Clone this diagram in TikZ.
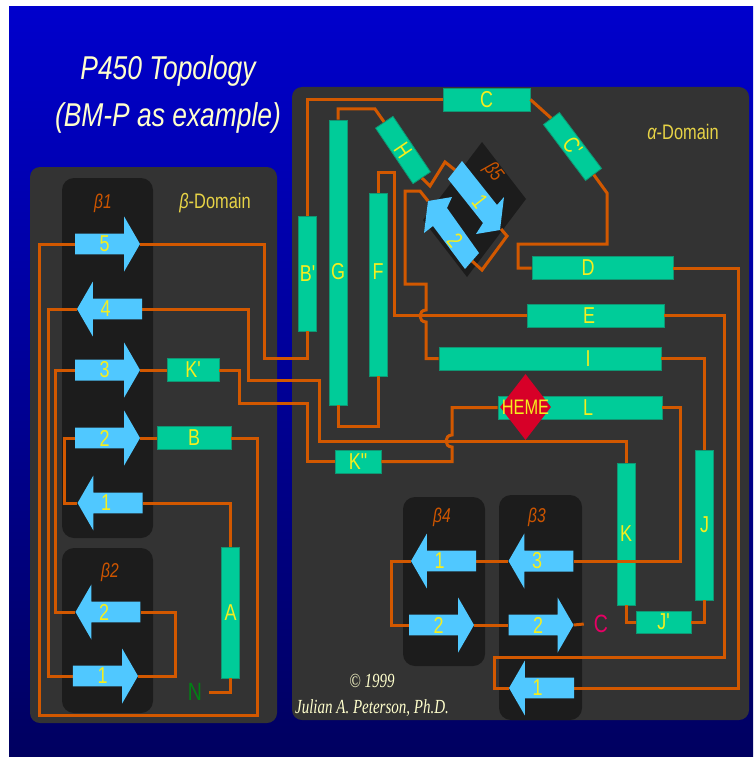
\documentclass[tikz,border=0pt]{standalone}
\usepackage{fontspec}
\usetikzlibrary{shapes.arrows,shapes.geometric}
\newfontfamily\narrowsf[FakeStretch=0.78]{Liberation Sans}
\newfontfamily\titlesf[FakeStretch=0.8]{Liberation Sans}
\newfontfamily\sigfont[FakeStretch=0.75]{Liberation Serif}
\definecolor{bgtop}{RGB}{0,0,204}
\definecolor{bgbot}{RGB}{0,0,96}
\definecolor{panelgray}{RGB}{51,51,51}
\definecolor{sheetgray}{RGB}{28,28,28}
\definecolor{helixgreen}{RGB}{0,204,153}
\definecolor{helixedge}{RGB}{16,150,115}
\definecolor{strandblue}{RGB}{80,200,255}
\definecolor{wireorange}{RGB}{210,88,0}
\definecolor{lblyellow}{RGB}{245,238,30}
\definecolor{domgold}{RGB}{232,212,70}
\definecolor{betaorange}{RGB}{205,85,0}
\definecolor{cream}{RGB}{255,255,204}
\definecolor{ngreen}{RGB}{0,130,20}
\definecolor{cpink}{RGB}{230,0,100}
\definecolor{hemered}{RGB}{215,0,40}
\pgfdeclarelayer{bg}
\pgfdeclarelayer{wires}
\pgfsetlayers{bg,wires,main}

\begin{document}
\begin{tikzpicture}[x=1pt, y=-1pt,
        wire/.style={draw=wireorange, line width=3},
        hlab/.style={text=lblyellow, inner sep=0,
                font=\narrowsf\fontsize{23}{23}\selectfont},
        helix/.style={rectangle, fill=helixgreen, draw=helixedge, line width=0.8,
                inner sep=0, text=lblyellow, font=\narrowsf\fontsize{23}{23}\selectfont},
        vhelix/.style={helix, minimum width=18},
        hhelix/.style={helix, minimum height=23},
        strandr/.style={single arrow, fill=strandblue, inner sep=0,
                minimum height=65, minimum width=55, single arrow head extend=13.5,
                single arrow tip angle=120, text=lblyellow,
                font=\narrowsf\fontsize{23}{23}\selectfont},
        strandl/.style={strandr, shape border rotate=180,
                execute at begin node=\hspace*{-7pt},
                execute at end node=\hspace*{7pt}},
        betatag/.style={text=betaorange, font=\narrowsf\itshape\fontsize{20}{20}\selectfont},
        domtag/.style={text=domgold, font=\narrowsf\fontsize{21}{21}\selectfont},
        sig/.style={text=cream, font=\sigfont\itshape\fontsize{20}{20}\selectfont},
        heme/.style={diamond, fill=hemered, minimum width=51, minimum height=66, inner sep=0}
    ]
    \useasboundingbox (0,0) rectangle (753,757);

    \begin{pgfonlayer}{bg}
        \fill[white] (0,0) rectangle (753,757);
        \shade[top color=bgtop, bottom color=bgbot] (9,7) rectangle (753,757);
        \fill[panelgray, rounded corners=10] (30,167) rectangle (277,723);
        \fill[panelgray, rounded corners=10] (292,87) rectangle (749,720);
        \fill[sheetgray, rounded corners=12] (62,178) rectangle (153,538);
        \fill[sheetgray, rounded corners=12] (62,548) rectangle (153,713);
        \fill[sheetgray, rounded corners=12] (403,497) rectangle (485,666);
        \fill[sheetgray, rounded corners=12] (499,495) rectangle (582,720);
        \fill[sheetgray] (482,142) -- (526,199) -- (467,277) -- (423,220) -- cycle;

        \node[hhelix, minimum width=52] (Kp) at (193,370) {K'};
        \node[hhelix, minimum width=74] (B) at (194,438) {B};
        \node[vhelix, minimum height=131] (A) at (230.5,612.5) {A};
        \node[vhelix, minimum height=115] (Bp) at (307.5,273.5) {B'};
        \node[vhelix, minimum height=285, label={[hlab, yshift=-9.5]center:G}] (G) at (338,262.5) {};
        \node[vhelix, minimum height=183, label={[hlab, yshift=12.5]center:F}] (F) at (378,284.5) {};
        \node[hhelix, minimum width=46] (Kpp) at (358,461.5) {K"};
        \node[hhelix, minimum width=87] (C) at (486.5,99.5) {C};
        \node[hhelix, minimum width=67, minimum height=21, rotate=-56] (H) at (403,150) {H};
        \node[hhelix, minimum width=70, minimum height=20, rotate=-53] (Cp) at (572.5,146.5) {C'};
        \node[hhelix, minimum width=141, label={[hlab, xshift=-14.5]center:D}] (D) at (602.5,268) {};
        \node[hhelix, minimum width=137, label={[hlab, xshift=-6.5]center:E}] (E) at (595.5,315.5) {};
        \node[hhelix, minimum width=222, label={[hlab, xshift=38]center:I}] (I) at (550,358.5) {};
        \node[hhelix, minimum width=164, label={[hlab, xshift=8]center:L}] (L) at (580,407.5) {};
        \node[vhelix, minimum height=142] (K) at (626,534) {K};
        \node[vhelix, minimum height=150] (J) at (704.5,525) {J};
        \node[hhelix, minimum width=55, minimum height=22] (Jp) at (663.5,622) {J'};
    \end{pgfonlayer}

    \node[strandr] (b1s5) at (104.5,244) {5};
    \node[strandl] (b1s4) at (112.5,309) {4};
    \node[strandr] (b1s3) at (104.5,370) {3};
    \node[strandr] (b1s2) at (104.5,438) {2};
    \node[strandl] (b1s1) at (113,503) {1};
    \node[strandl] (b2s2) at (111,612) {2};
    \node[strandr] (b2s1) at (102.5,676) {1};
    \node[strandl] (b4s1) at (446.5,561) {1};
    \node[strandr] (b4s2) at (438.5,625) {2};
    \node[strandl] (b3s3) at (544,561) {3};
    \node[strandr] (b3s2) at (538,625) {2};
    \node[strandl] (b3s1) at (544.5,688) {1};

    \fill[strandblue] (462,161) -- (497,205) -- (504,197) -- (500,230) -- (476,234)
        -- (483,223) -- (448,179) -- cycle;
    \fill[strandblue] (479,253) -- (447,208) -- (452,197) -- (428,201) -- (424,233)
        -- (433,226) -- (465,269) -- cycle;
    \coordinate (b5a) at (455,170);
    \coordinate (b5b) at (501,229);
    \coordinate (b5c) at (472,261);
    \coordinate (b5d) at (428,201);
    \node[hlab, rotate=-52] (b5n1) at (480,202) {1};
    \node[hlab, rotate=-52] (b5n2) at (455,240) {2};
    \node[betatag, rotate=-52] (b5tag) at (493,172) {β5};

    \node[heme, label={[hlab, font=\narrowsf\fontsize{21}{21}\selectfont]center:HEME}] (heme) at (525.5,407) {};

    \node[text=cream, align=center, font=\titlesf\itshape\fontsize{33}{47}\selectfont] (title) at (168,94) {P450 Topology\\(BM-P as example)};
    \node[domtag] (bdom) at (215,203) {{\itshape β}-Domain};
    \node[domtag] (adom) at (683,132) {{\itshape α}-Domain};
    \node[betatag] (b1tag) at (103,203) {β1};
    \node[betatag] (b2tag) at (110,572) {β2};
    \node[betatag] (b4tag) at (442,517) {β4};
    \node[betatag] (b3tag) at (537,517) {β3};
    \node[text=ngreen, inner xsep=7, font=\narrowsf\fontsize{25}{25}\selectfont] (N) at (195,692) {N};
    \node[text=cpink, inner xsep=10, font=\narrowsf\fontsize{25}{25}\selectfont] (Cend) at (601,624) {C};
    \node[sig] (copy) at (372,681) {© 1999};
    \node[sig] (author) at (372,708) {Julian A. Peterson, Ph.D.};

    \begin{pgfonlayer}{wires}
        \draw[wire] (b1s5.tip) -| (264,358) -| (Bp.south);
        \draw[wire] (Bp.north) |- (C.west);
        \draw[wire] (C.east) -- (Cp.west);
        \draw[wire] (Cp.east) -- (607,193) -- (607,244) -- (518,244) |- (D.west);
        \draw[wire] (D.east) -| (738,688) -- (b3s1.tail);
        \draw[wire] (E.east) -| (724,657) -| (494,688) -- (b3s1.tip);
        \draw[wire] (I.east) -| (J.north);
        \draw[wire] (J.south) |- (Jp.east);
        \draw[wire] (Jp.west) -| (K.south);
        \draw[wire] (K.north) |- (319,441) |- (248,380) |- (b1s4.tail);
        \draw[wire] (L.west) -| (452,435) .. controls (444,435) and (444,447) .. (452,447) |- (Kpp.east);
        \draw[wire] (Kpp.west) -| (307,403) -| (239,370) -- (Kp.east);
        \draw[wire] (Kp.west) -- (b1s3.tip);
        \draw[wire] (b1s3.tail) -| (55,612) -- (b2s2.tip);
        \draw[wire] (b2s2.tail) -| (175,676) -- (b2s1.tip);
        \draw[wire] (b2s1.tail) -| (48,309) -- (b1s4.tip);
        \draw[wire] (b1s5.tail) -| (39,715) -| (257,438) -- (B.east);
        \draw[wire] (B.west) -- (b1s2.tip);
        \draw[wire] (b1s2.tail) -| (64,503) -- (b1s1.tip);
        \draw[wire] (b1s1.tail) -| (A.north);
        \draw[wire] (A.south) |- (N.east);
        \draw[wire] (G.south) -- (338,426) -| (F.south);
        \draw[wire] (G.north) |- (375,109) -- (H.west);
        \draw[wire] (H.east) -- (430,186) -- (445,162) -- (b5a);
        \draw[wire] (b5b) -- (507,236) -- (482,270) -- (b5c);
        \draw[wire] (b5d) -- (420,191) -- (405,191) -- (405,284) -- (426,284) -- (426,310)
            .. controls (418,310) and (418,322) .. (426,322) |- (I.west);
        \draw[wire] (F.north) |- (394,172) |- (E.west);
        \draw[wire] (b3s3.tail) -| (680,407.5) -- (L.east);
        \draw[wire] (b3s3.tip) -- (b4s1.tail);
        \draw[wire] (b4s1.tip) -| (391,625) -- (b4s2.tail);
        \draw[wire] (b4s2.tip) -- (b3s2.tail);
        \draw[wire] (b3s2.tip) -- (Cend.west);
    \end{pgfonlayer}
\end{tikzpicture}
\end{document}
